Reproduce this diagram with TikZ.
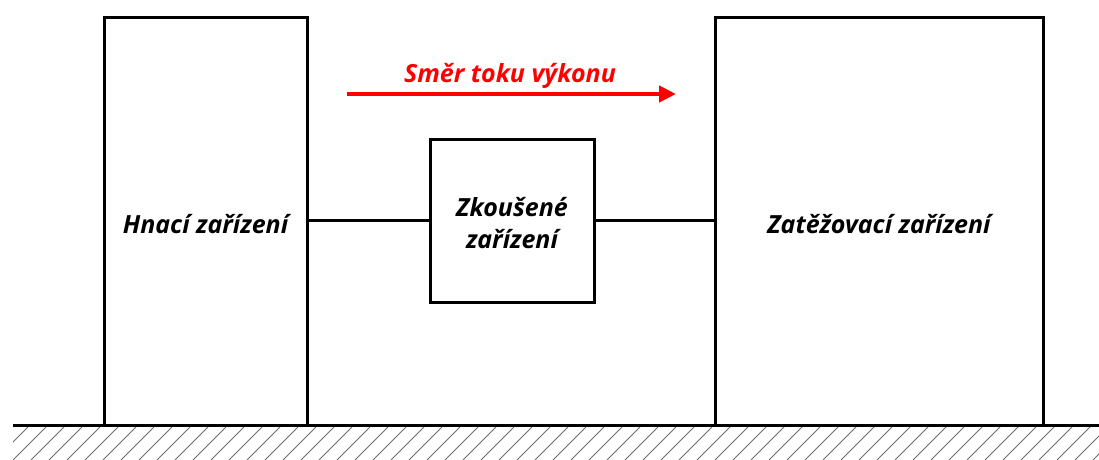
\documentclass[tikz,border=0pt]{standalone}
\usepackage{fontspec}
\setmainfont{Open Sans}
\usetikzlibrary{arrows.meta}
\definecolor{hatchgray}{RGB}{110,110,110}
\tikzset{
  block/.style={draw=black, line width=3pt, inner sep=0pt, align=center,
    font=\fontsize{25}{32}\selectfont\bfseries\itshape},
  link/.style={line width=3pt, black},
  flow/.style={draw=red, line width=4.5pt, -{Triangle[length=17pt,width=16pt]}},
  flowlabel/.style={text=red, font=\fontsize{25}{30}\selectfont\bfseries\itshape, inner sep=0pt},
  hatch/.style={hatchgray, line width=0.8pt}
}
\begin{document}
\begin{tikzpicture}[x=1pt,y=-1pt]
\useasboundingbox (0,0) rectangle (1099,459);
% hatching
\begin{scope}
\clip (13,427) rectangle (1099,459);
\foreach \x in {-5,13,...,1115}{
  \draw[hatch] (\x,460) -- (\x+33,427);
}
\end{scope}
% boxes
\node[block, minimum width=203pt, minimum height=408pt, text height=24pt, text depth=0pt] (drive) at (205.5,221) {Hnací zařízení};
\node[block, minimum width=328pt, minimum height=408pt, text height=24pt, text depth=0pt] (load) at (879,221) {Zatěžovací zařízení};
\node[block, minimum width=164pt, minimum height=163pt, text height=55pt, text depth=0pt] (dut) at (512,220.5) {Zkoušené\\zařízení};
% ground line
\coordinate (g1) at (13,425);
\coordinate (g2) at (1099,425);
\draw[link] (g1) -- (g2);
% shafts
\draw[link] (drive.east |- dut.west) -- (dut.west);
\draw[link] (dut.east) -- (load.west |- dut.east);
% power flow arrow
\coordinate (a1) at (347,94);
\coordinate (a2) at (676,94);
\draw[flow] (a1) -- (a2);
\node[flowlabel, anchor=base] (flowtxt) at (510,82) {Směr toku výkonu};
\end{tikzpicture}
\end{document}
